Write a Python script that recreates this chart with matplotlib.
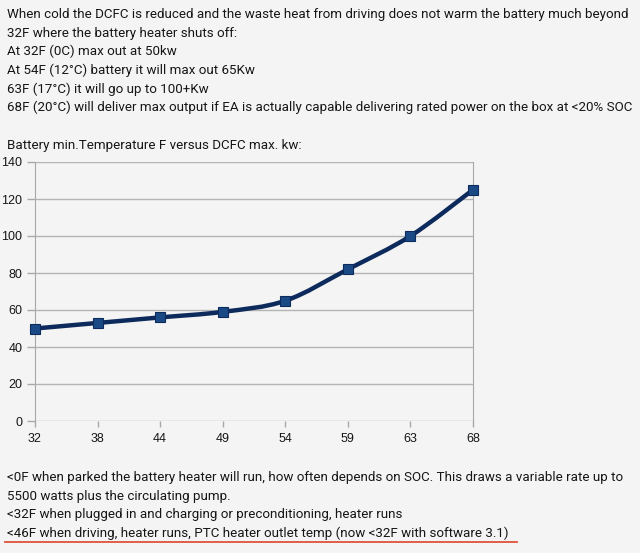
import matplotlib.pyplot as plt
from matplotlib.path import Path
from matplotlib.patches import PathPatch
import numpy as np

# data
temps = ['32', '38', '44', '49', '54', '59', '63', '68']
kw = [50, 53, 56, 59, 65, 82, 100, 125]
yticks = [0, 20, 40, 60, 80, 100, 120, 140]

top_lines = [
    "When cold the DCFC is reduced and the waste heat from driving does not warm the battery much beyond",
    "32F where the battery heater shuts off:",
    "At 32F (0C) max out at 50kw",
    "At 54F (12\u00b0C) battery it will max out 65Kw",
    "63F (17\u00b0C) it will go up to 100+Kw",
    "68F (20\u00b0C) will deliver max output if EA is actually capable delivering rated power on the box at <20% SOC",
]
chart_title = "Battery min.Temperature F versus DCFC max. kw:"
bottom_lines = [
    "<0F when parked the battery heater will run, how often depends on SOC. This draws a variable rate up to",
    "5500 watts plus the circulating pump.",
    "<32F when plugged in and charging or preconditioning, heater runs",
    "<46F when driving, heater runs, PTC heater outlet temp (now <32F with software 3.1)",
]

plt.rcParams['font.family'] = ['Roboto', 'DejaVu Sans']
W, H = 640, 553
bg = '#f4f4f4'
txt = '#161616'
fig = plt.figure(figsize=(W / 100, H / 100), dpi=100, facecolor=bg)

def px(x, y):
    return x / W, 1 - y / H

# fit the body font so the first line spans about as wide as in the screenshot
probe = fig.text(0, 0, top_lines[0], fontsize=10)
rend = fig.canvas.get_renderer()
wpx = probe.get_window_extent(rend).width
probe.remove()
fs = 10 * 623 / wpx

for i, s in enumerate(top_lines):
    fig.text(*px(7, 14.5 + i * 18.6), s, fontsize=fs, color=txt, va='center', ha='left')
fig.text(*px(7, 145), chart_title, fontsize=fs, color=txt, va='center', ha='left')
for i, s in enumerate(bottom_lines):
    fig.text(*px(7, 478 + i * 18.4), s, fontsize=fs, color=txt, va='center', ha='left')

# red underline under the last line
fig.add_artist(plt.Line2D([5 / W, 517 / W], [1 - 542 / H, 1 - 542 / H],
                          color='#e0533a', lw=1.3, transform=fig.transFigure))

l, r, t, b = 35, 473, 162, 421
ax = fig.add_axes([l / W, 1 - b / H, (r - l) / W, (b - t) / H])
ax.set_facecolor(bg)
x = np.arange(len(temps))
ax.set_xlim(0, len(temps) - 1)
ax.set_ylim(0, 140)
ax.set_yticks(yticks)
ax.set_xticks(x)
ax.set_xticklabels(temps)
ax.yaxis.grid(True, color='#b4b4b4', lw=1)
ax.set_axisbelow(True)
for sp in ['top', 'bottom']:
    ax.spines[sp].set_visible(False)
for sp in ['left', 'right']:
    ax.spines[sp].set_color('#a8a8a8')
ax.tick_params(axis='both', colors='#a8a8a8', labelcolor=txt, labelsize=9, width=1)
ax.tick_params(axis='y', length=6, pad=3)
ax.tick_params(axis='x', length=4, pad=5)
for lab in ax.get_xticklabels() + ax.get_yticklabels():
    lab.set_fontfamily(['Liberation Sans', 'DejaVu Sans'])

# smoothed line (Catmull-Rom bezier through the points)
pts = np.column_stack([x, kw]).astype(float)
verts = [tuple(pts[0])]
codes = [Path.MOVETO]
for i in range(len(pts) - 1):
    p0 = pts[max(i - 1, 0)]
    p1 = pts[i]
    p2 = pts[i + 1]
    p3 = pts[min(i + 2, len(pts) - 1)]
    c1 = p1 + (p2 - p0) / 6
    c2 = p2 - (p3 - p1) / 6
    verts += [tuple(c1), tuple(c2), tuple(p2)]
    codes += [Path.CURVE4] * 3
ax.add_patch(PathPatch(Path(verts, codes), fill=False, edgecolor='#0d2a5c', lw=3.2,
                       capstyle='round', clip_on=False, zorder=3))
ax.plot(x, kw, ls='none', marker='s', ms=7.8, color='#1a4a85', mec='#0d2a5c', mew=0.8,
        clip_on=False, zorder=4)

fig.savefig('out.png', dpi=100, facecolor=bg)
